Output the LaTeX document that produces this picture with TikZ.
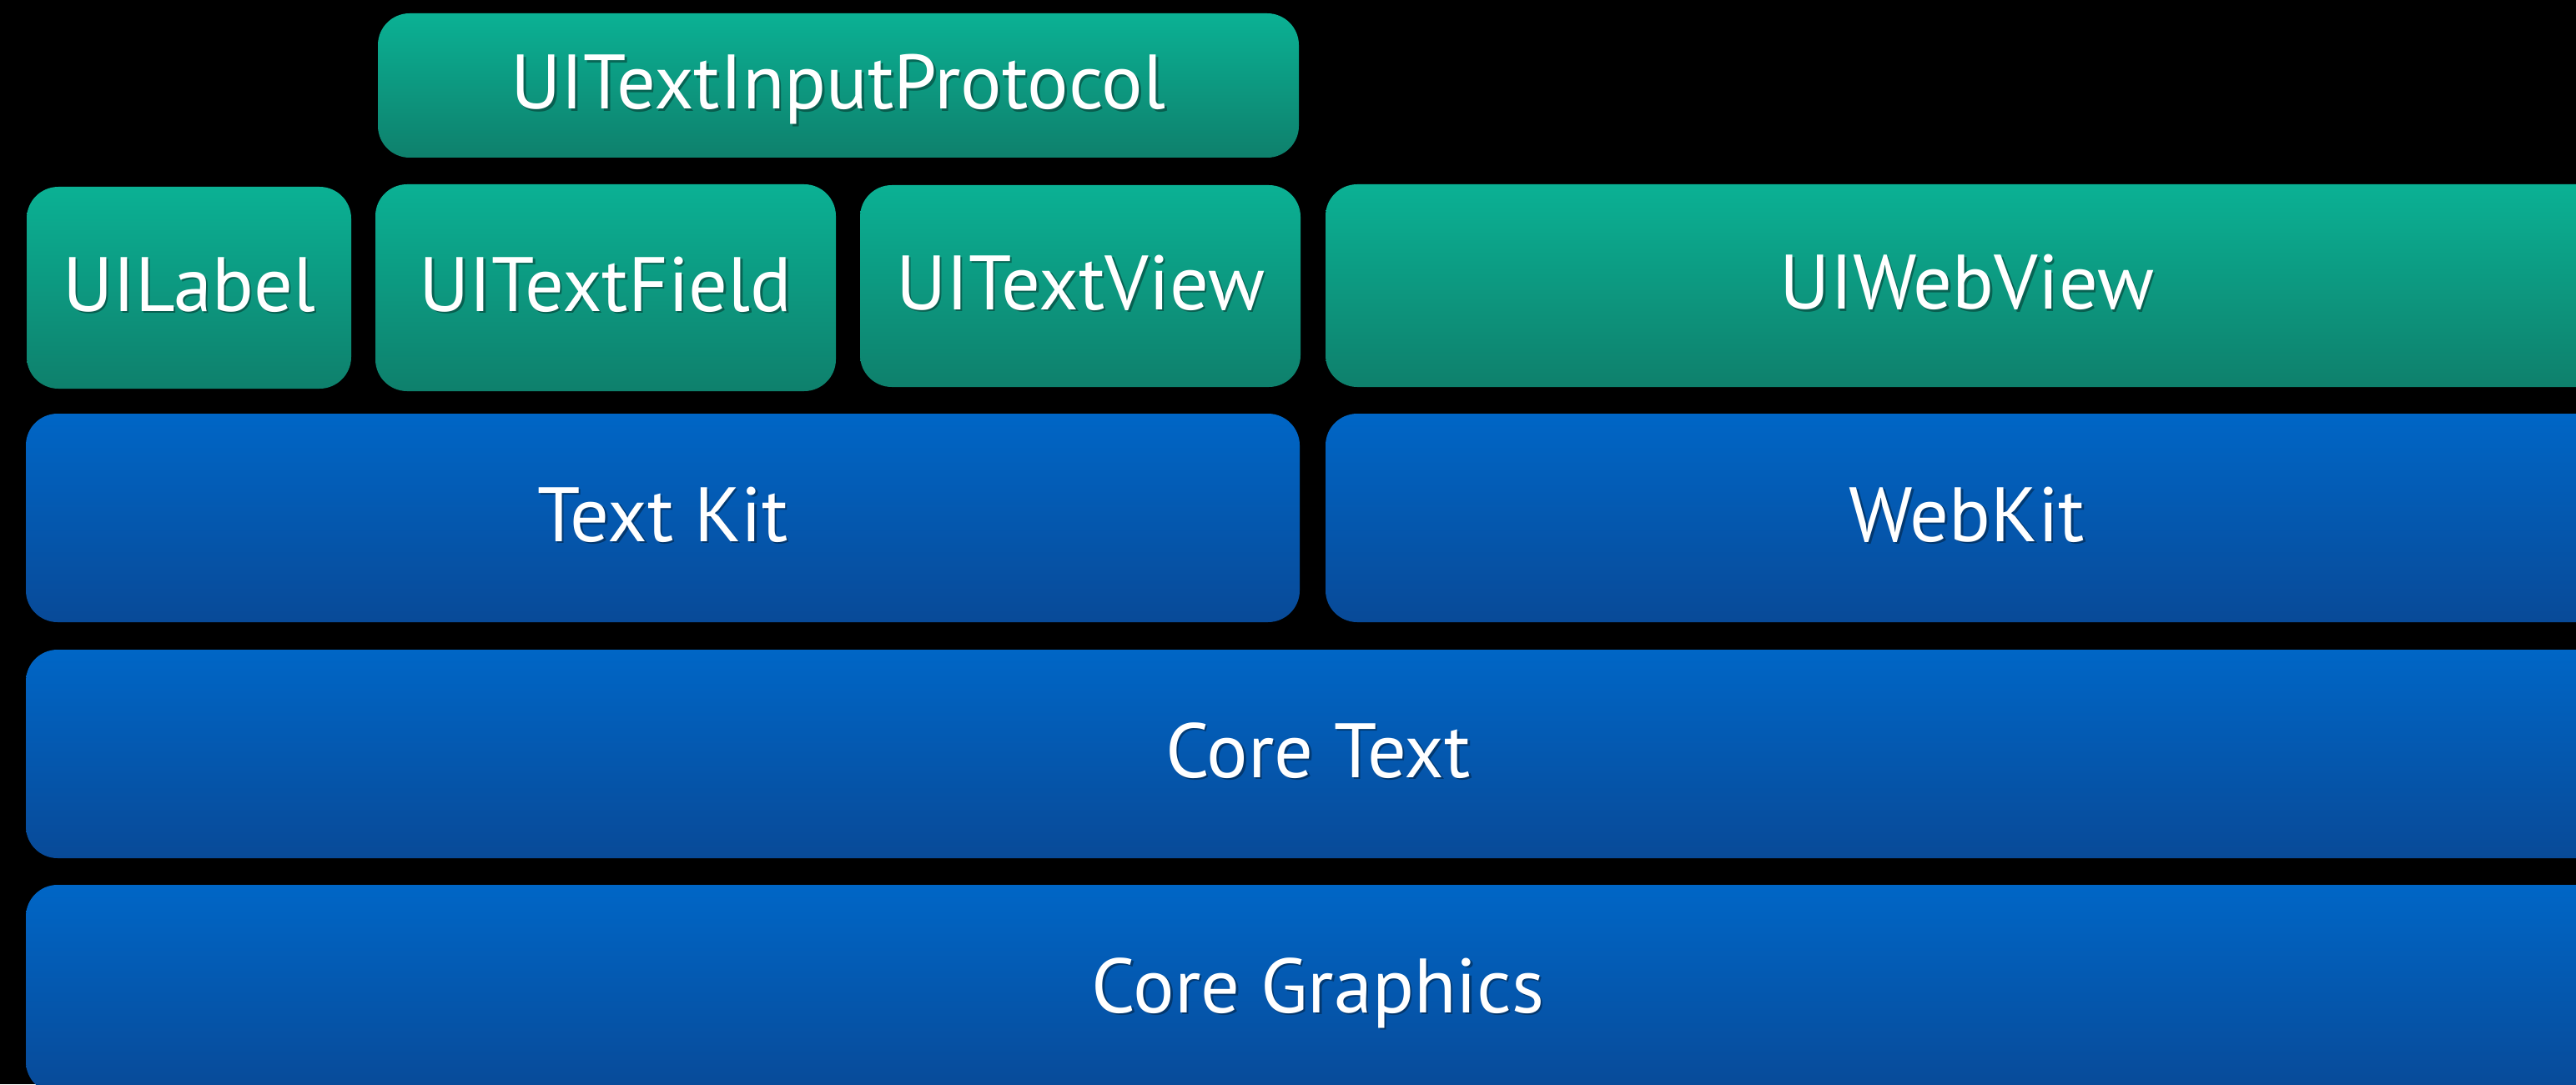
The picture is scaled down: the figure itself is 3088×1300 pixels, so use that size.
\documentclass[tikz,border=0pt]{standalone}
\usepackage{fontspec}
\setmainfont{PT Sans}
\usetikzlibrary{fit,calc}
\definecolor{tealtop}{RGB}{11,177,148}
\definecolor{tealbot}{RGB}{14,128,108}
\definecolor{bluetop}{RGB}{0,102,198}
\definecolor{bluebot}{RGB}{8,74,152}
\tikzset{
  boxbase/.style={inner sep=0pt, rounded corners=38*0.01cm, draw=none},
  tealbox/.style={boxbase, top color=tealtop, bottom color=tealbot},
  bluebox/.style={boxbase, top color=bluetop, bottom color=bluebot},
  lbl/.style={text=white, inner sep=0pt, text height=0.645cm, text depth=0pt,
    font=\fontsize{26.3}{32}\selectfont},
  lblshadow/.style={lbl, text=black, opacity=0.35}
}
\newcommand{\layer}[7]{%
  \node[fit={(#2,#3) (#4,#5)}, #6] (#1) {};
  \node[lblshadow] (#1-s) at ($(#1.center)+(2.5,-1.5)$) {#7};
  \node[lbl] (#1-t) at ($(#1.center)+(0,-4)$) {#7};
}
\begin{document}
\begin{tikzpicture}[x=0.01cm, y=-0.01cm]
\useasboundingbox (0,0) rectangle (3088,1300);
\fill[black] (0,0) rectangle (3088,1300);
\clip (0,0) rectangle (3088,1300);
\layer{proto}{453}{16}{1557}{189}{tealbox}{UITextInputProtocol}
\layer{label}{32}{224}{421}{466}{tealbox}{UILabel}
\layer{field}{450}{221}{1002}{469}{tealbox}{UITextField}
\layer{tview}{1031}{222}{1559}{464}{tealbox}{UITextView}
\layer{wview}{1589}{221}{3127}{464}{tealbox}{UIWebView}
\layer{tkit}{31}{496}{1558}{746}{bluebox}{Text Kit}
\layer{wkit}{1589}{496}{3127}{746}{bluebox}{WebKit}
\layer{ctext}{31}{779}{3129}{1029}{bluebox}{Core Text}
\layer{cgraph}{31}{1061}{3129}{1311}{bluebox}{Core Graphics}
\end{tikzpicture}
\end{document}
